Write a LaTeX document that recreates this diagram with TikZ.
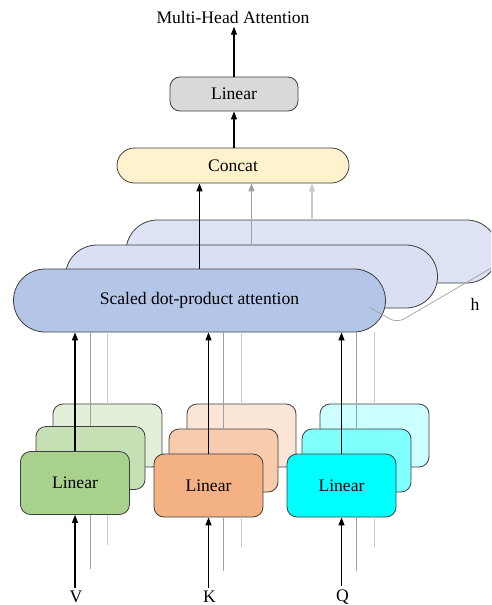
\documentclass[tikz,border=0pt]{standalone}
\usepackage{fontspec}
\setmainfont{Liberation Serif}
\usetikzlibrary{arrows.meta,calc}
\definecolor{edge}{HTML}{3F3F3F}
\definecolor{midgray}{HTML}{A0A0A0}
\definecolor{lightgray}{HTML}{CACACA}
\definecolor{pillA}{HTML}{B4C6E7}
\definecolor{pillB}{HTML}{D9E0F3}
\definecolor{pillC}{HTML}{DDE3F4}
\definecolor{concatc}{HTML}{FFF2CC}
\definecolor{topgray}{HTML}{D9D9D9}
\definecolor{gA}{HTML}{A9D18E}\definecolor{gB}{HTML}{C5E0B4}\definecolor{gC}{HTML}{E2F0D9}
\definecolor{oA}{HTML}{F4B183}\definecolor{oB}{HTML}{F8CBAD}\definecolor{oC}{HTML}{FBE5D6}
\definecolor{cA}{HTML}{00FFFF}\definecolor{cB}{HTML}{80FFFF}\definecolor{cC}{HTML}{CCFFFF}
\tikzset{
  txt/.style={font=\fontsize{17.6}{20}\selectfont},
  pill/.style={draw=edge, line width=0.8pt, rounded corners=31.5pt, minimum width=372pt, minimum height=63pt, inner sep=0pt, txt},
  card/.style={draw=edge, line width=0.8pt, rounded corners=10pt, minimum width=109pt, minimum height=63pt, inner sep=0pt, txt},
  arr/.style={line width=1.2pt, -{Triangle[length=8pt,width=6pt]}},
  thinline/.style={line width=1pt},
}
\begin{document}
\begin{tikzpicture}[x=1pt,y=-1pt]
\useasboundingbox (0,0) rectangle (491,605);
\clip (0,0) rectangle (491,605);

% output side
\node[txt] (title) at (233,17) {Multi-Head Attention};
\node[draw=edge, line width=0.8pt, fill=topgray, rounded corners=10pt, minimum width=128pt, minimum height=34pt, inner sep=0pt, txt] (lin) at (234,94) {Linear};
\node[draw=edge, line width=0.8pt, fill=concatc, rounded corners=17.5pt, minimum width=232pt, minimum height=35pt, inner sep=0pt, txt] (concat) at (233,165.5) {Concat};
\draw[arr] (lin.north) -- (lin.north |- title.south);
\draw[arr] (concat.north -| lin.north) -- (lin.south);

% stacked attention heads
\node[pill, fill=pillC] (sdpc) at (312,251.5) {};
\node[pill, fill=pillB] (sdpb) at (251.5,276.5) {};
\node[pill, fill=pillA] (sdpa) at (199.5,300.5) {Scaled dot-product attention};
\draw[arr, lightgray] (sdpc.north) -- (sdpc.north |- concat.south);
\draw[arr, midgray] (sdpb.north) -- (sdpb.north |- concat.south);
\draw[arr] (sdpa.north) -- (sdpa.north |- concat.south);

% head count marker
\coordinate (hs) at (369,307);
\coordinate (hc) at (397,323);
\coordinate (he) at (493,267);
\draw[midgray, line width=0.7pt, rounded corners=8pt] (hs) -- (hc) -- (he);
\node[txt] (h) at (475,304) {h};

% projection stacks
\foreach \nm/\xa/\xb/\xc/\ya/\yb/\lab/\ca/\cb/\cc in {
  g/75/90.5/107.5/483/458/V/gA/gB/gC,
  o/208.5/223.5/241.5/485.5/460.5/K/oA/oB/oC,
  c/341.5/356.5/374.5/485.5/460.5/Q/cA/cB/cC}{
  \node[card, fill=\cc] (\nm3) at (\xc,435.5) {};
  \node[card, fill=\cb] (\nm2) at (\xb,\yb) {};
  \node[card, fill=\ca] (\nm1) at (\xa,\ya) {Linear};
  \node[txt] (\nm in) at (\xa+1,597) {\lab};
  \draw[arr] (\nm in.north -| \nm1.south) -- (\nm1.south);
  \draw[arr] (\nm1.north) -- (\nm1.north |- sdpa.south);
  \draw[thinline, midgray] (\nm2.north) -- (\nm2.north |- sdpa.south);
  \draw[thinline, lightgray] (\nm3.north) -- (\nm3.north |- sdpa.south);
  \draw[thinline, midgray] (\nm2.south |- \nm1.south) -- ++(0,54);
  \draw[thinline, lightgray] (\nm3.south |- \nm1.south) -- ++(0,30);
}
\end{tikzpicture}
\end{document}
